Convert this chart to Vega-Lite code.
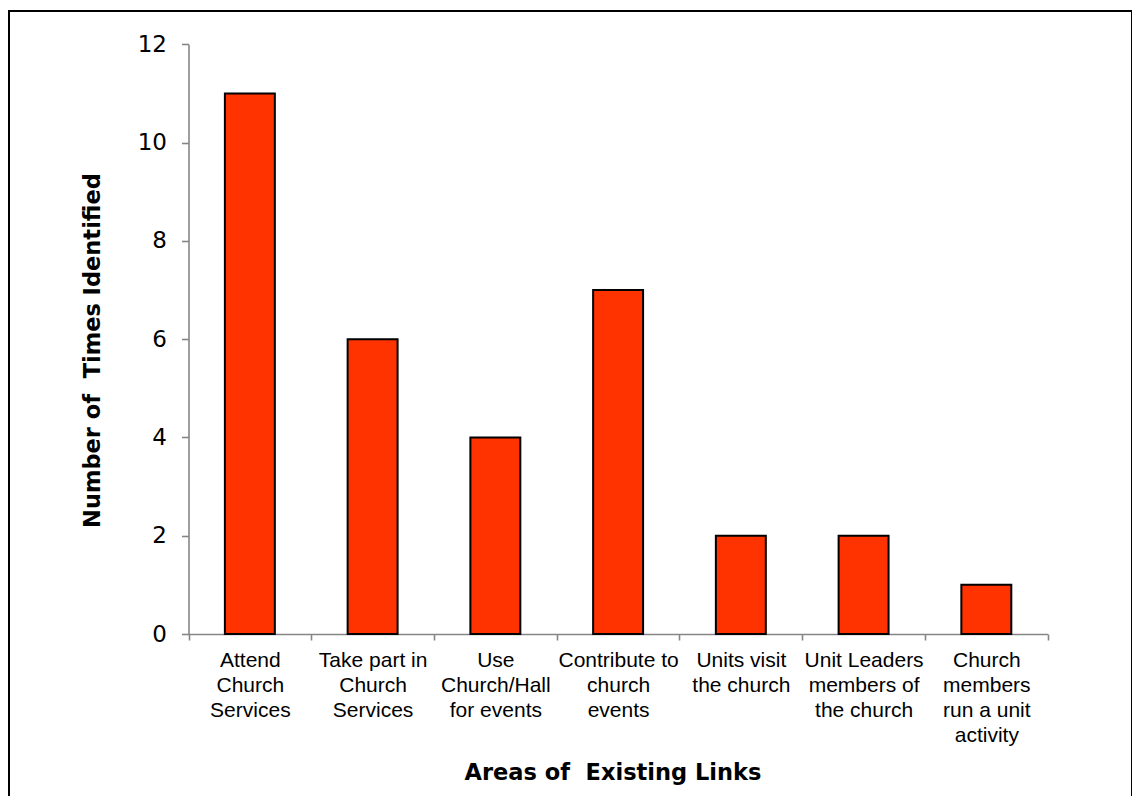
{
  "$schema": "https://vega.github.io/schema/vega-lite/v6.json",
  "width": 1123,
  "height": 800,
  "autosize": {"type": "none"},
  "padding": {"left": 9, "top": 11, "right": 0, "bottom": 0},
  "background": "white",
  "config": {
    "view": {"stroke": "black", "strokeWidth": 2},
    "font": "Liberation Sans",
    "axis": {
      "grid": false,
      "domainColor": "#868686",
      "tickColor": "#868686",
      "domainWidth": 1.6,
      "tickWidth": 1.6,
      "labelColor": "black",
      "labelFont": "Liberation Sans",
      "labelFontSize": 21,
      "titleFont": "DejaVu Sans",
      "titleFontSize": 22.5,
      "titleFontWeight": "bold",
      "titleColor": "black"
    }
  },
  "data": {
    "values": [
      {"area": "Attend\nChurch\nServices", "count": 11},
      {"area": "Take part in\nChurch\nServices", "count": 6},
      {"area": "Use\nChurch/Hall\nfor events", "count": 4},
      {"area": "Contribute to\nchurch\nevents", "count": 7},
      {"area": "Units visit\nthe church", "count": 2},
      {"area": "Unit Leaders\nmembers of\nthe church", "count": 2},
      {"area": "Church\nmembers\nrun a unit\nactivity", "count": 1}
    ]
  },
  "mark": {
    "type": "bar",
    "fill": "#FF3300",
    "stroke": "black",
    "strokeWidth": 2,
    "width": {"band": 0.407}
  },
  "encoding": {
    "x": {
      "field": "area",
      "type": "nominal",
      "sort": null,
      "scale": {"range": [179.5, 1038.7], "paddingInner": 0, "paddingOuter": 0},
      "axis": {
        "title": "Areas of\u00a0 Existing Links",
        "offset": -177,
        "labelAngle": 0,
        "labelExpr": "split(datum.label, '\\n')",
        "labelLineHeight": 25,
        "labelBaseline": "top",
        "labelPadding": 9,
        "labelOverlap": false,
        "labelBound": false,
        "labelLimit": 300,
        "tickBand": "extent",
        "tickSize": 6,
        "titlePadding": 16,
        "titleX": 603.5
      }
    },
    "y": {
      "field": "count",
      "type": "quantitative",
      "scale": {"domain": [0, 12], "range": [623, 33.3], "nice": false, "zero": true},
      "axis": {
        "title": "Number of\u00a0 Times Identified",
        "offset": -179.5,
        "values": [0, 2, 4, 6, 8, 10, 12],
        "tickSize": 7,
        "labelFont": "DejaVu Sans",
        "labelFontSize": 23,
        "labelAlign": "right",
        "labelBaseline": "middle",
        "labelPadding": 15,
        "titlePadding": 33,
        "titleY": 339
      }
    }
  }
}
